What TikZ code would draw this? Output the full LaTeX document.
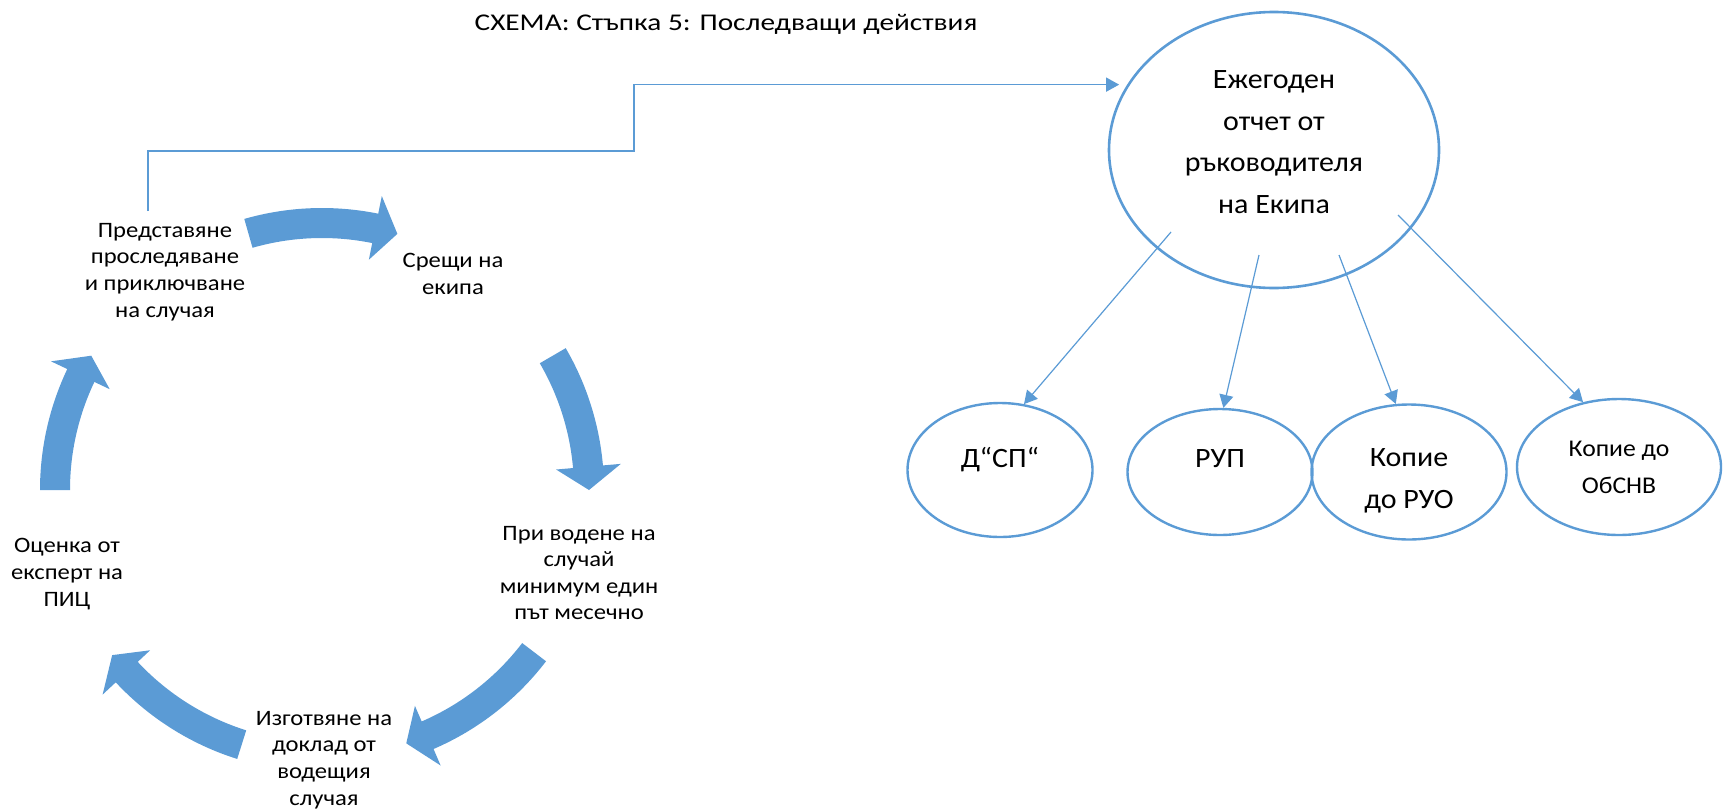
\documentclass[tikz,border=0pt]{standalone}
\usepackage{fontspec}
\setmainfont{Carlito}
\newfontfamily\titlefont{Carlito}[FakeStretch=1.22]
\newfontfamily\cycfont{Carlito}[FakeStretch=1.12]
\newfontfamily\ovalfont{Carlito}[FakeStretch=1.07]
\usepackage{tikz}
\usetikzlibrary{arrows.meta}
\usetikzlibrary{shapes.geometric}
\definecolor{accent}{HTML}{5B9BD5}

% block arrow of the cycle: start angle, head base angle, tip angle
\newcommand{\cycarrow}[3]{%
  \fill[cycfill] (#1:282) arc[start angle=#1, end angle=#2, radius=282]
    -- (#2:300) -- (#3:267) -- (#2:235) -- (#2:252)
    arc[start angle=#2, end angle=#1, radius=252] -- cycle;}

\begin{document}
\begin{tikzpicture}[
    x=0.5pt, y=-0.5pt,
    >={Triangle[length=6.5pt, width=7pt]},
    cyctext/.style={align=center, inner sep=0pt, font=\cycfont\fontsize{11pt}{13.3pt}\selectfont},
    oval/.style={ellipse, draw=accent, line width=1.2pt, align=center, inner sep=0pt, font=\ovalfont\fontsize{14pt}{21pt}\selectfont},
    link/.style={draw=accent, line width=0.6pt, ->},
    cycfill/.style={fill=accent}
]
\useasboundingbox (0,0) rectangle (1723,809);

% Title :
\node[font=\titlefont\fontsize{12pt}{14pt}\selectfont, inner sep=0pt] (title) at (726,24) {СХЕМА: Стъпка 5: Последващи действия};

% Cycle :
\node[cyctext] (pres) at (165,272) {Представяне\\проследяване\\и приключване\\на случая};
\node[cyctext] (sresht) at (453,274) {Срещи на\\екипа};
\node[cyctext] (vodene) at (579,573) {При водене на\\случай\\минимум един\\път месечно};
\node[cyctext] (doklad) at (324,760) {Изготвяне на\\доклад от\\водещия\\случая};
\node[cyctext] (ocenka) at (67,574) {Оценка от\\експерт на\\ПИЦ};

\begin{scope}[shift={(322,490)}]
\cycarrow{-106}{-78.5}{-73.6}
\cycarrow{-30.2}{-5}{0}
\cycarrow{37.4}{66.7}{71.6}
\cycarrow{107.5}{137}{141.8}
\cycarrow{180}{205.4}{210.2}
\end{scope}

% Report and copies :
\node[oval, line width=1.3pt, minimum width=165pt, minimum height=138pt, text depth=8pt, font=\ovalfont\fontsize{14pt}{20.8pt}\selectfont] (ejeg) at (1274,150) {Ежегоден\\отчет от\\ръководителя\\на Екипа};
\node[oval, minimum width=92.5pt, minimum height=67pt, text depth=13pt] (dsp) at (1000,470) {Д“СП“};
\node[oval, minimum width=92.5pt, minimum height=63pt, text depth=13pt] (rup) at (1220,472) {РУП};
\node[oval, minimum width=97.5pt, minimum height=67.5pt, text height=38.5pt] (ruo) at (1409,472) {Копие\\до РУО};
\node[oval, minimum width=102pt, minimum height=68pt, font=\ovalfont\fontsize{12pt}{18.5pt}\selectfont] (obsnv) at (1619,467) {Копие до\\ОбСНВ};

% Edges :
\coordinate (lift) at (148,211);
\coordinate (knee) at (634,151);
\draw[link, line width=0.7pt, shorten >=4pt] (lift) |- (knee) |- (ejeg.156);

\coordinate (s1) at (1171,232);
\coordinate (s2) at (1259,255);
\coordinate (s3) at (1339,255);
\coordinate (s4) at (1398,215);
\draw[link] (s1) -- (dsp.70);
\draw[link] (s2) -- (rup.87);
\draw[link] (s3) -- (ruo.101);
\draw[link] (s4) -- (obsnv.119);

\end{tikzpicture}
\end{document}
